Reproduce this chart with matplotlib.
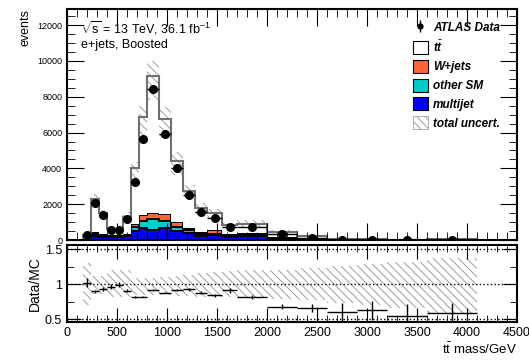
import numpy as np
import matplotlib
matplotlib.use('Agg')
from matplotlib import pyplot as plt
from matplotlib.patches import Patch
from matplotlib.ticker import MultipleLocator

plt.rcParams['font.family'] = ['Liberation Sans', 'DejaVu Sans']
plt.rcParams['mathtext.fontset'] = 'custom'
plt.rcParams['mathtext.rm'] = 'Liberation Sans'
plt.rcParams['mathtext.it'] = 'Liberation Sans:italic:bold'
plt.rcParams['mathtext.bf'] = 'Liberation Sans:bold'
plt.rcParams['hatch.linewidth'] = 0.6

# bin edges of the ttbar mass (GeV)
edges = np.array([160, 240, 320, 400, 480, 560, 640, 720, 800, 920, 1040, 1160,
                  1280, 1400, 1550, 1700, 2000, 2300, 2600, 2900, 3200, 3600, 4100])

# stack components (events)
multijet = np.array([40, 220, 185, 150, 170, 205, 500, 680, 560, 650, 500, 410,
                     220, 260, 170, 205, 90, 35, 12, 5, 3, 2])
other_sm = np.array([25, 130, 110, 55, 55, 75, 250, 400, 600, 410, 245, 150,
                     95, 95, 70, 75, 30, 12, 5, 3, 2, 1.5])
wjets = np.array([15, 80, 60, 55, 55, 75, 120, 330, 330, 375, 280, 127,
                  150, 190, 80, 110, 40, 15, 6, 3, 2, 1.5])
mc_total = np.array([258, 2278, 1502, 595, 578, 1308, 4001, 6850, 9180, 6760, 4391, 2735,
                     1783, 1483, 816, 913, 470, 198, 35, 32, 20, 29])
ttbar = mc_total - multijet - other_sm - wjets

# data (events)
data = np.array([263, 2050, 1397, 575, 575, 1190, 3257, 5625, 8419, 5940, 4040, 2530,
                 1564, 1246, 743, 743, 318, 130, 21, 20, 11, 17])

# relative total uncertainty (up / down)
unc_up = np.array([0.30, 0.12, 0.12, 0.20, 0.20, 0.20, 0.09, 0.09, 0.09, 0.10, 0.12, 0.13,
                   0.16, 0.17, 0.19, 0.21, 0.21, 0.23, 0.26, 0.29, 0.32, 0.38])
unc_dn = np.array([0.30, 0.14, 0.14, 0.19, 0.19, 0.19, 0.15, 0.15, 0.15, 0.16, 0.17, 0.17,
                   0.18, 0.19, 0.19, 0.20, 0.21, 0.23, 0.27, 0.30, 0.34, 0.42])

widths = np.diff(edges)
centers = edges[:-1] + widths / 2
ratio = data / mc_total
ratio_err = np.sqrt(data) / mc_total

fig = plt.figure(figsize=(5.29, 3.6), dpi=100)
ax = fig.add_axes([0.1267, 0.3333, 0.8506, 0.6417])
rax = fig.add_axes([0.1267, 0.1056, 0.8506, 0.2138])

# stacked histogram
bottom = np.zeros(len(widths))
for vals, col, ec in [(multijet, '#0000ff', 'black'), (other_sm, '#00cccc', 'black'),
                      (wjets, '#ff6633', 'black'), (ttbar, 'white', 'none')]:
    ax.stairs(bottom + vals, edges, baseline=bottom, fill=True, facecolor=col,
              edgecolor=ec, linewidth=1.2)
    if ec != 'none':
        ax.stairs(bottom + vals, edges, baseline=bottom, color='black', linewidth=1.2)
    bottom = bottom + vals

ax.bar(edges[:-1], mc_total * (unc_up + unc_dn), bottom=mc_total * (1 - unc_dn),
       width=widths, align='edge', color='none', edgecolor='#909090', linewidth=0,
       hatch='\\\\\\\\')
ax.stairs(mc_total, edges, color='#707070', linewidth=1.5)
ax.errorbar(centers, data, xerr=widths / 2, yerr=np.sqrt(data), fmt='o', color='black',
            ms=5.5, elinewidth=1, capsize=0)

ax.set_xlim(0, 4500)
ax.set_ylim(0, 12900)
ax.xaxis.set_major_locator(MultipleLocator(500))
ax.xaxis.set_minor_locator(MultipleLocator(100))
ax.yaxis.set_major_locator(MultipleLocator(2000))
ax.yaxis.set_minor_locator(MultipleLocator(500))
ax.tick_params(which='both', direction='in', top=True, right=True, labelbottom=False,
               labelsize=6.5)
ax.tick_params(which='major', length=12)
ax.tick_params(which='minor', length=6)
for s in ax.spines.values():
    s.set_linewidth(1.5)
ax.set_ylabel('events', fontsize=9, loc='top')

ax.text(0.03, 0.955, r'$\sqrt{\mathrm{s}}$ = 13 TeV, 36.1 fb$^{-1}$', transform=ax.transAxes,
        fontsize=9, va='top')
ax.text(0.03, 0.87, 'e+jets, Boosted', transform=ax.transAxes, fontsize=9, va='top')

handles = [
    ax.errorbar([], [], yerr=[], fmt='o', color='black', ms=3.5, elinewidth=1),
    Patch(facecolor='white', edgecolor='black', linewidth=0.8),
    Patch(facecolor='#ff6633', edgecolor='black', linewidth=0.8),
    Patch(facecolor='#00cccc', edgecolor='black', linewidth=0.8),
    Patch(facecolor='#0000ff', edgecolor='black', linewidth=0.8),
    Patch(facecolor='white', edgecolor='#909090', linewidth=0.5, hatch='\\\\\\\\'),
]
labels = ['ATLAS Data', r'$t\bar{t}$', 'W+jets', 'other SM', 'multijet', 'total uncert.']
ax.legend(handles, labels, loc='upper right', bbox_to_anchor=(0.98, 0.985), frameon=False,
          prop={'weight': 'bold', 'style': 'italic', 'size': 8.5},
          handlelength=1.3, handleheight=1.3, handletextpad=0.4, labelspacing=0.45,
          borderpad=0.2)

# ratio panel
rax.bar(edges[:-1], unc_up + unc_dn, bottom=1 - unc_dn, width=widths, align='edge',
        color='none', edgecolor='#909090', linewidth=0, hatch='\\\\\\\\')
for yv in [0.5, 1.0, 1.5]:
    rax.axhline(yv, color='black', linestyle=':', linewidth=1)
rax.errorbar(centers, ratio, xerr=widths / 2, yerr=ratio_err, fmt='none', color='black',
             elinewidth=1, capsize=0)
rax.set_xlim(0, 4500)
rax.set_ylim(0.46, 1.56)
rax.xaxis.set_major_locator(MultipleLocator(500))
rax.xaxis.set_minor_locator(MultipleLocator(100))
rax.yaxis.set_major_locator(MultipleLocator(0.5))
rax.yaxis.set_minor_locator(MultipleLocator(0.25))
rax.set_yticks([0.5, 1, 1.5])
rax.set_yticklabels(['0.5', '1', '1.5'])
rax.tick_params(which='both', direction='in', top=True, right=True, labelsize=9)
rax.tick_params(which='major', length=10)
rax.tick_params(which='minor', length=5)
for s in rax.spines.values():
    s.set_linewidth(1.5)
rax.set_ylabel('Data/MC', fontsize=10, labelpad=2)
rax.set_xlabel(r'$\mathrm{t\bar{t}}$ mass/GeV', fontsize=9.5, loc='right', labelpad=2)

fig.savefig('out.png', dpi=100)
